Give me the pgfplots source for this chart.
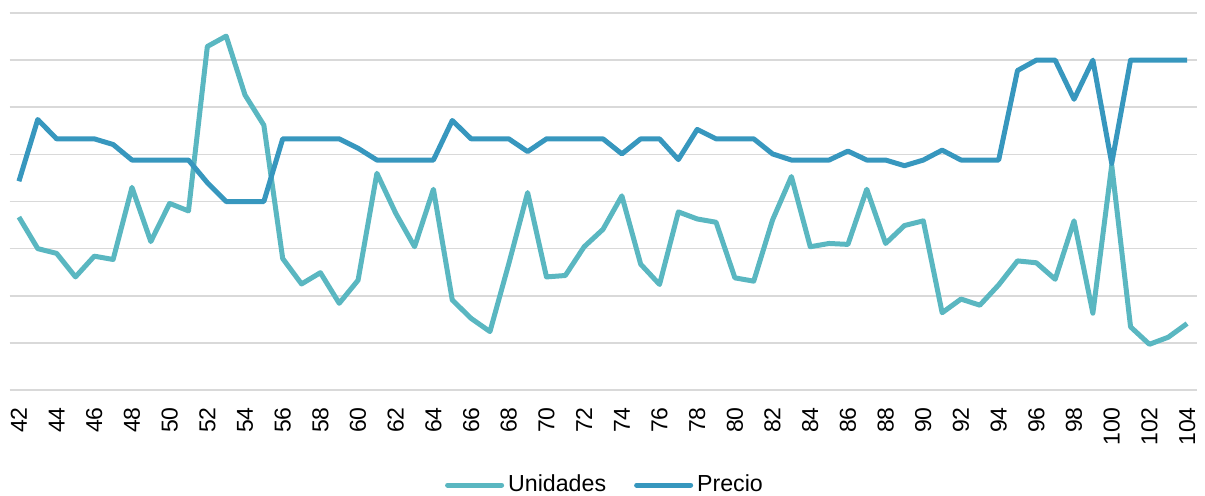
\documentclass[border=0pt]{standalone}
\usepackage{pgfplots}
\pgfplotsset{compat=1.18}
\usepackage{fontspec}
\setmainfont{Liberation Sans}

\definecolor{unidades}{HTML}{5AB7C1}
\definecolor{precio}{HTML}{3797BE}
\definecolor{gridgray}{HTML}{D9D9D9}

\begin{document}
\begin{tikzpicture}
\useasboundingbox (-4.75pt,-52.5pt) rectangle (597.75pt,195pt);
\begin{axis}[
  at={(0pt,0pt)}, anchor=south west,
  scale only axis,
  width=593.5pt, height=188.5pt,
  xmin=41.5, xmax=104.5,
  ymin=0, ymax=8,
  axis line style={draw=none},
  ytick={0,1,...,8},
  yticklabels={},
  ymajorgrids,
  grid style={gridgray, line width=0.8pt},
  xtick={42,44,...,104},
  major tick length=0pt,
  xtick style={draw=none},
  ytick style={draw=none},
  /pgf/number format/assume math mode=true,
  xticklabel style={yshift=-8.5pt, rotate=90, anchor=east, inner sep=0pt,
    font=\fontsize{11.5}{13}\selectfont},
  legend style={at={(axis description cs:0.5,-0.252)}, anchor=center, xshift=1.5pt,
    draw=none, legend columns=2, font=\fontsize{11.6}{13}\selectfont,
    /tikz/every even column/.append style={column sep=12pt}},
  legend image code/.code={\draw[#1, line cap=round] (0pt,0pt) -- (27pt,0pt);},
  every axis plot/.append style={line width=2.5pt, line join=round, mark=none},
]
\addplot[unidades] coordinates {
(42,3.67) (43,3.00) (44,2.90) (45,2.40) (46,2.84) (47,2.77) (48,4.30) (49,3.15)
(50,3.96) (51,3.80) (52,7.29) (53,7.51) (54,6.26) (55,5.62) (56,2.79) (57,2.25)
(58,2.49) (59,1.84) (60,2.33) (61,4.60) (62,3.75) (63,3.04) (64,4.26) (65,1.91)
(66,1.52) (67,1.24) (68,2.68) (69,4.19) (70,2.40) (71,2.43) (72,3.04) (73,3.41)
(74,4.12) (75,2.67) (76,2.24) (77,3.78) (78,3.63) (79,3.56) (80,2.38) (81,2.31)
(82,3.61) (83,4.53) (84,3.04) (85,3.11) (86,3.09) (87,4.26) (88,3.11) (89,3.49)
(90,3.59) (91,1.64) (92,1.93) (93,1.80) (94,2.23) (95,2.74) (96,2.70) (97,2.35)
(98,3.59) (99,1.63) (100,4.77) (101,1.34) (102,0.97) (103,1.12) (104,1.41)
};
\addlegendentry{Unidades}
\addplot[precio] coordinates {
(42,4.43) (43,5.74) (44,5.33) (45,5.33) (46,5.33) (47,5.21) (48,4.88) (49,4.88)
(50,4.88) (51,4.88) (52,4.40) (53,4.00) (54,4.00) (55,4.00) (56,5.33) (57,5.33)
(58,5.33) (59,5.33) (60,5.13) (61,4.88) (62,4.88) (63,4.88) (64,4.88) (65,5.72)
(66,5.33) (67,5.33) (68,5.33) (69,5.06) (70,5.33) (71,5.33) (72,5.33) (73,5.33)
(74,5.01) (75,5.33) (76,5.33) (77,4.89) (78,5.53) (79,5.33) (80,5.33) (81,5.33)
(82,5.01) (83,4.88) (84,4.88) (85,4.88) (86,5.07) (87,4.88) (88,4.88) (89,4.76)
(90,4.88) (91,5.09) (92,4.88) (93,4.88) (94,4.88) (95,6.78) (96,7.00) (97,7.00)
(98,6.17) (99,7.00) (100,4.81) (101,7.00) (102,7.00) (103,7.00) (104,7.00)
};
\addlegendentry{Precio}
\end{axis}
\end{tikzpicture}
\end{document}
